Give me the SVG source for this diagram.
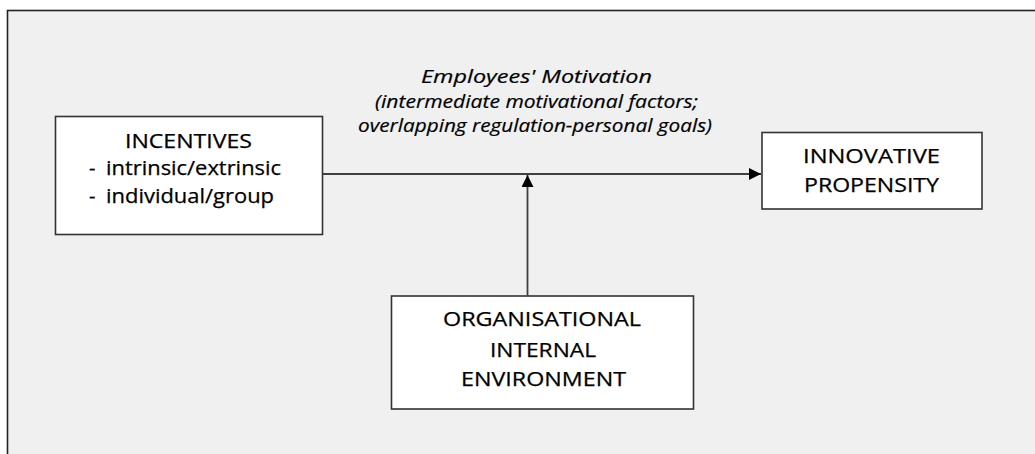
<svg xmlns="http://www.w3.org/2000/svg" width="1035" height="454" viewBox="0 0 1035 454">
  <defs>
    <style>
      .frame { fill: #f0f0f0; stroke: #222222; stroke-width: 1.6; }
      .box { fill: #ffffff; stroke: #333333; stroke-width: 1.6; }
      .wire { fill: none; stroke: #404040; stroke-width: 1.8; }
      .lbl { font-family: "Open Sans", "Liberation Sans", sans-serif; font-size: 20px; fill: #000000; stroke: #000000; stroke-width: 0.25; }
      .mid { text-anchor: middle; }
      .note { font-family: "Open Sans", "Liberation Sans", sans-serif; font-size: 18.5px; font-style: italic; fill: #000000; stroke: #000000; stroke-width: 0.2; text-anchor: middle; }
    </style>
    <marker id="arrow" viewBox="0 0 12 12" refX="12" refY="6" markerWidth="12" markerHeight="12" markerUnits="userSpaceOnUse" orient="auto">
      <path d="M0,0 L12,6 L0,12 z" fill="#000000"/>
    </marker>
  </defs>

  <!-- page background and frame -->
  <rect x="0" y="0" width="1035" height="454" fill="#ffffff"/>
  <rect class="frame" x="7.5" y="10.5" width="1040" height="460"/>

  <!-- connectors -->
  <g id="connectors">
    <line class="wire" x1="322" y1="174" x2="761" y2="174" marker-end="url(#arrow)"/>
    <line class="wire" x1="527.5" y1="295.5" x2="527.5" y2="175" marker-end="url(#arrow)"/>
  </g>

  <!-- connector label -->
  <g id="motivation-label">
    <text class="note" x="536.5" y="83" textLength="231" lengthAdjust="spacingAndGlyphs">Employees' Motivation</text>
    <text class="note" x="536.5" y="108" textLength="323" lengthAdjust="spacingAndGlyphs">(intermediate motivational factors;</text>
    <text class="note" x="535" y="132" textLength="354" lengthAdjust="spacingAndGlyphs">overlapping regulation-personal goals)</text>
  </g>

  <g id="incentives">
    <rect class="box" x="55.5" y="116.5" width="267" height="118"/>
    <text class="lbl mid" x="188.5" y="148" textLength="127" lengthAdjust="spacingAndGlyphs">INCENTIVES</text>
    <text class="lbl" x="89" y="175">-</text>
    <text class="lbl" x="106" y="175" textLength="175" lengthAdjust="spacingAndGlyphs">intrinsic/extrinsic</text>
    <text class="lbl" x="89" y="203">-</text>
    <text class="lbl" x="106" y="203" textLength="168" lengthAdjust="spacingAndGlyphs">individual/group</text>
  </g>

  <g id="innovative-propensity">
    <rect class="box" x="762" y="132.5" width="220" height="76.5"/>
    <text class="lbl mid" x="871.5" y="163" textLength="137" lengthAdjust="spacingAndGlyphs">INNOVATIVE</text>
    <text class="lbl mid" x="871.5" y="192" textLength="135" lengthAdjust="spacingAndGlyphs">PROPENSITY</text>
  </g>

  <g id="organisational-environment">
    <rect class="box" x="391.5" y="296" width="302" height="113"/>
    <text class="lbl mid" x="542" y="326" textLength="198" lengthAdjust="spacingAndGlyphs">ORGANISATIONAL</text>
    <text class="lbl mid" x="543" y="356.5" textLength="106" lengthAdjust="spacingAndGlyphs">INTERNAL</text>
    <text class="lbl mid" x="543.5" y="386" textLength="165" lengthAdjust="spacingAndGlyphs">ENVIRONMENT</text>
  </g>
</svg>
